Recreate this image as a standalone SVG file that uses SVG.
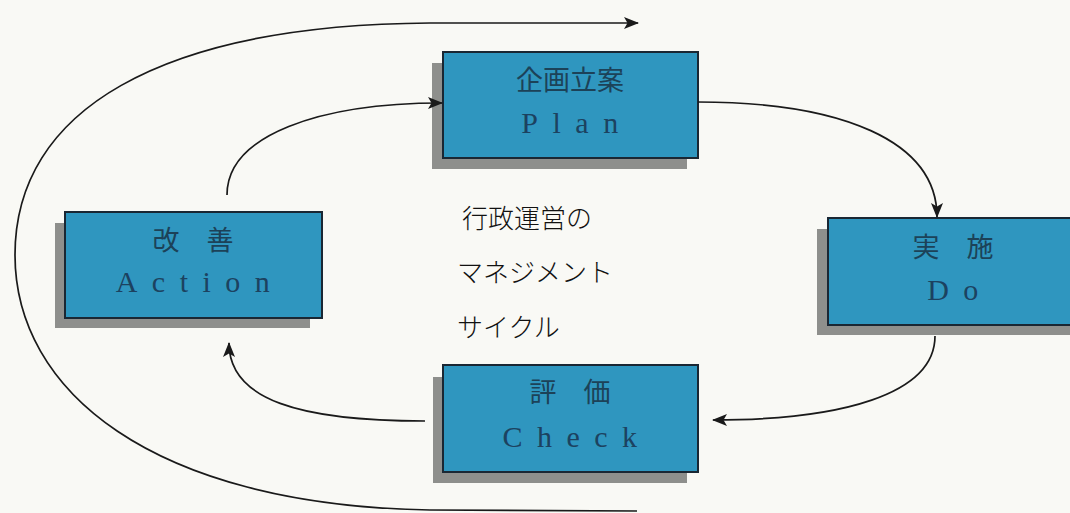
<svg xmlns="http://www.w3.org/2000/svg" width="1070" height="513" viewBox="0 0 1070 513">
<defs>
<style>
.shadow{fill:#8e8f8c}
.box{fill:#2f96bf;stroke:#1a2733;stroke-width:2}
.jp{font-family:"Noto Sans CJK JP","Noto Sans CJK SC",sans-serif;font-size:27px;fill:#1c4258;text-anchor:middle}
.en{font-family:"Liberation Serif","DejaVu Serif",serif;font-size:30px;fill:#1c4260;text-anchor:middle;letter-spacing:14.5px}
.center{font-family:"Noto Sans CJK JP","Noto Sans CJK SC",sans-serif;font-size:26px;font-weight:300;fill:#111}
.link{fill:none;stroke:#1a1a1a;stroke-width:1.7}
</style>
<marker id="arrow" viewBox="0 0 15 12" refX="14" refY="6" markerWidth="15" markerHeight="12" markerUnits="userSpaceOnUse" orient="auto">
<path d="M0,0 L15,6 L0,12 L3.5,6 Z" fill="#1a1a1a"/>
</marker>
</defs>
<rect x="0" y="0" width="1070" height="513" fill="#f9f9f5"/>

<g id="plan">
<rect class="shadow" x="432" y="63" width="255" height="106"/>
<rect class="box" x="443" y="52" width="255" height="106"/>
<text class="jp" x="570" y="90">企画立案</text>
<text class="en" x="577" y="133">Plan</text>
</g>

<g id="do">
<rect class="shadow" x="817" y="229" width="260" height="106"/>
<rect class="box" x="828" y="218" width="260" height="107"/>
<text class="jp" x="953" y="257">実　施</text>
<text class="en" x="960" y="300">Do</text>
</g>

<g id="check">
<rect class="shadow" x="433" y="377" width="254" height="106"/>
<rect class="box" x="443" y="365" width="255" height="107"/>
<text class="jp" x="570" y="402">評　価</text>
<text class="en" x="577" y="447">Check</text>
</g>

<g id="action">
<rect class="shadow" x="55" y="223" width="255" height="105"/>
<rect class="box" x="65" y="212" width="257" height="106"/>
<text class="jp" x="193" y="250">改　善</text>
<text class="en" x="200" y="292">Action</text>
</g>

<g id="center-label">
<text class="center" x="462" y="228">行政運営の</text>
<text class="center" x="457" y="282">マネジメント</text>
<text class="center" x="457" y="337">サイクル</text>
</g>

<g id="connectors">
<path class="link" d="M227,195 C227,135 320,103 442,103" marker-end="url(#arrow)"/>
<path class="link" d="M698,102 C840,102 937,140 937,217" marker-end="url(#arrow)"/>
<path class="link" d="M935,336 C935,395 840,420 713,420" marker-end="url(#arrow)"/>
<path class="link" d="M425,421 C300,421 229,400 229,343" marker-end="url(#arrow)"/>
<path class="link" d="M637,511 L430,510 C150,505 15,390 15,255 C15,110 160,25 430,23 L638,23" marker-end="url(#arrow)"/>
</g>
</svg>
